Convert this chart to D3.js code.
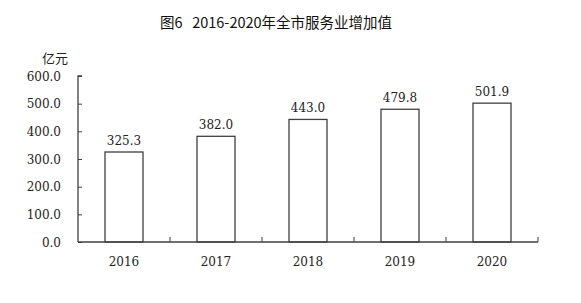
<!DOCTYPE html>
<html>
<head>
<meta charset="utf-8">
<script src="https://cdn.jsdelivr.net/npm/d3@7"></script>
<style>
  body { margin: 0; background: #fff; }
  svg { display: block; }
  text { white-space: pre; }
</style>
</head>
<body>
<svg id="chart" width="581" height="303"></svg>
<script>
var years = ["2016", "2017", "2018", "2019", "2020"];
var values = [325.3, 382.0, 443.0, 479.8, 501.9];
var yTicks = [0, 100, 200, 300, 400, 500, 600];

var svg = d3.select("#chart");
var numFont = "'DejaVu Serif', serif";
var cjkFont = "'Noto Sans CJK SC', sans-serif";
var axisColor = "#404040";

var x = d3.scaleBand().domain(years).range([78, 538]).paddingInner(0).paddingOuter(0);
var y = d3.scaleLinear().domain([0, 600]).range([242, 76]);

// title
svg.append("text")
    .attr("x", 276).attr("y", 28)
    .attr("text-anchor", "middle")
    .attr("font-family", cjkFont)
    .attr("font-size", 14.5)
    .attr("fill", "#111")
    .text("图6   2016-2020年全市服务业增加值");

// unit
svg.append("text")
    .attr("x", 55).attr("y", 63)
    .attr("text-anchor", "middle")
    .attr("font-family", cjkFont)
    .attr("font-size", 13)
    .attr("fill", "#222")
    .text("亿元");

// bars
svg.selectAll("rect.bar").data(values).enter().append("rect")
    .attr("class", "bar")
    .attr("x", function(d, i) { return x(years[i]) + x.bandwidth()/2 - 19; })
    .attr("y", function(d) { return y(d); })
    .attr("width", 38)
    .attr("height", function(d) { return y(0) - y(d); })
    .attr("fill", "#fff")
    .attr("stroke", axisColor)
    .attr("stroke-width", 1.3);

// value labels
svg.selectAll("text.val").data(values).enter().append("text")
    .attr("class", "val")
    .attr("x", function(d, i) { return x(years[i]) + x.bandwidth()/2; })
    .attr("y", function(d) { return y(d) - 7; })
    .attr("text-anchor", "middle")
    .attr("font-family", numFont)
    .attr("font-size", 12)
    .attr("fill", "#222")
    .text(function(d) { return d.toFixed(1); });

// y axis
var yAxis = d3.axisRight(y).tickValues(yTicks).tickSize(4).tickFormat("");
var gy = svg.append("g").attr("transform", "translate(78,0)").call(yAxis);
gy.select(".domain").attr("stroke", axisColor).attr("stroke-width", 1.3)
    .attr("d", "M4," + y(600) + "H0V" + y(0));
gy.selectAll(".tick line").attr("stroke", axisColor);

svg.selectAll("text.ylab").data(yTicks).enter().append("text")
    .attr("class", "ylab")
    .attr("x", 61)
    .attr("y", function(d) { return y(d) + 4.5; })
    .attr("text-anchor", "end")
    .attr("font-family", numFont)
    .attr("font-size", 12)
    .attr("fill", "#222")
    .text(function(d) { return d.toFixed(1); });

// x axis
var bounds = years.map(function(d) { return x(d); }).concat([x.range()[1]]);
svg.append("line")
    .attr("x1", 78).attr("x2", 538)
    .attr("y1", y(0)).attr("y2", y(0))
    .attr("stroke", axisColor).attr("stroke-width", 1.3);
svg.selectAll("line.xt").data(bounds.slice(1)).enter().append("line")
    .attr("class", "xt")
    .attr("x1", function(d) { return d; }).attr("x2", function(d) { return d; })
    .attr("y1", y(0)).attr("y2", y(0) - 5)
    .attr("stroke", axisColor);

svg.selectAll("text.xlab").data(years).enter().append("text")
    .attr("class", "xlab")
    .attr("x", function(d) { return x(d) + x.bandwidth()/2; })
    .attr("y", 266)
    .attr("text-anchor", "middle")
    .attr("font-family", numFont)
    .attr("font-size", 12)
    .attr("fill", "#222")
    .text(function(d) { return d; });
</script>
</body>
</html>
